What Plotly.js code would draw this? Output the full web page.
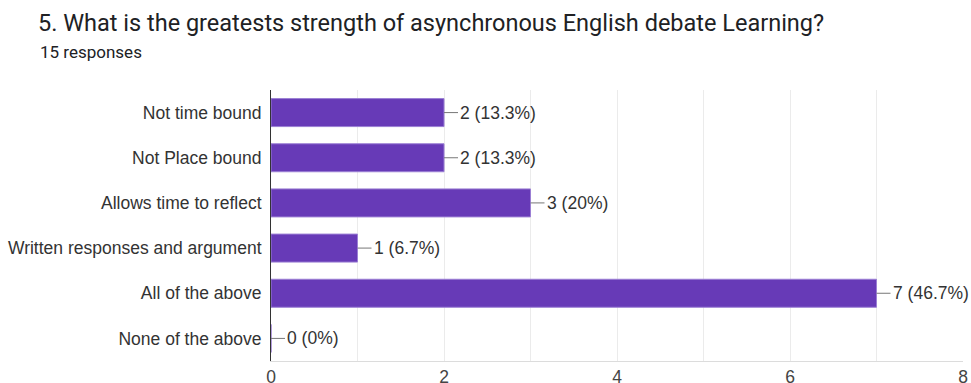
<!DOCTYPE html>
<html>
<head>
<meta charset="utf-8">
<script src="https://cdn.plot.ly/plotly-3.0.1.min.js"></script>
<style>html,body{margin:0;padding:0;background:#fff;}#chart{width:971px;height:383px;}</style>
</head>
<body>
<div id="chart"></div>
<script>
const categories = ["Not time bound", "Not Place bound", "Allows time to reflect", "Written responses and argument", "All of the above", "None of the above"];
const counts = [2, 2, 3, 1, 7, 0];
const percentLabels = ["13.3%", "13.3%", "20%", "6.7%", "46.7%", "0%"];
const xTicks = [0, 2, 4, 6, 8];
const titleText = "5. What is the greatests strength of asynchronous English debate Learning?";
const subtitleText = "15 responses";

const W = 971, H = 383;
const margin = {l: 271, r: 8, t: 90, b: 22};
const plotW = W - margin.l - margin.r;
const plotH = H - margin.t - margin.b;
const labelFont = {family: '"Liberation Sans", Arial, sans-serif', size: 17.5, color: '#333'};

const valueAnnotations = categories.map((c, i) => ({
  x: counts[i], y: c, xref: 'x', yref: 'y',
  text: counts[i] + ' (' + percentLabels[i] + ')',
  showarrow: true, arrowhead: 0, arrowwidth: 1, arrowcolor: '#777',
  ax: 14, ay: 0, xanchor: 'left', yanchor: 'middle',
  standoff: 0, startstandoff: 0,
  font: labelFont
}));

const layout = {
  width: W, height: H,
  margin: margin,
  paper_bgcolor: '#fff', plot_bgcolor: '#fff',
  showlegend: false,
  bargap: 0.38,
  title: {
    text: titleText,
    xref: 'container', yref: 'container',
    x: 38 / W, xanchor: 'left',
    y: 1 - 23 / H, yanchor: 'middle',
    font: {family: 'Roboto, sans-serif', size: 23.5, color: '#202124'}
  },
  xaxis: {
    range: [0, 8],
    tickvals: xTicks,
    ticktext: xTicks.map(String),
    showgrid: true, gridcolor: '#ebebeb', gridwidth: 1,
    minor: {dtick: 1, showgrid: true, gridcolor: '#ebebeb'},
    zeroline: false,
    showline: true, linecolor: '#dcdcdc', linewidth: 1,
    ticks: '',
    ticklabelstandoff: 0,
    tickfont: {family: '"Liberation Sans", Arial, sans-serif', size: 17.5, color: '#444'},
    fixedrange: true
  },
  yaxis: {
    type: 'category',
    autorange: 'reversed',
    showgrid: false,
    showline: true, linecolor: '#333', linewidth: 1,
    ticks: 'outside', ticklen: 5, tickcolor: 'rgba(0,0,0,0)',
    tickfont: labelFont,
    fixedrange: true
  },
  annotations: [
    {
      text: subtitleText, xref: 'paper', yref: 'paper',
      x: (38 - margin.l) / plotW, xanchor: 'left',
      y: (H - margin.b - 52) / plotH, yanchor: 'middle',
      showarrow: false,
      font: {family: 'Roboto, sans-serif', size: 17, color: '#202124'}
    }
  ].concat(valueAnnotations)
};

const data = [{
  type: 'bar', orientation: 'h',
  y: categories, x: counts,
  marker: {color: '#673ab7', line: {color: '#9b7fd4', width: 1}},
  hoverinfo: 'none'
}];

Plotly.newPlot('chart', data, layout, {displayModeBar: false, staticPlot: true});
</script>
</body>
</html>
